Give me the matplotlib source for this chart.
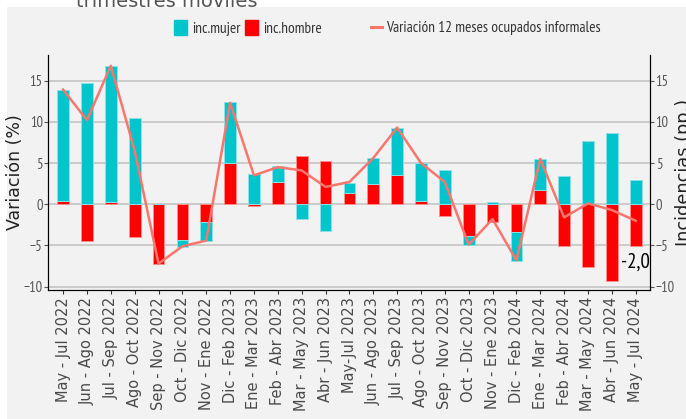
#!/usr/bin/env python3

import matplotlib
matplotlib.use("Agg")
import matplotlib.pyplot as plt
from matplotlib.patches import Rectangle, Patch
from matplotlib.lines import Line2D
import numpy as np

# Trimestres moviles
periods = ["May - Jul 2022", "Jun - Ago 2022", "Jul - Sep 2022", "Ago - Oct 2022",
           "Sep - Nov 2022", "Oct - Dic 2022", "Nov - Ene 2022", "Dic - Feb 2023",
           "Ene - Mar 2023", "Feb - Abr 2023", "Mar - May 2023", "Abr - Jun 2023",
           "May-Jul 2023", "Jun - Ago 2023", "Jul - Sep 2023", "Ago - Oct 2023",
           "Sep - Nov 2023", "Oct - Dic 2023", "Nov - Ene 2023", "Dic - Feb 2024",
           "Ene - Mar 2024", "Feb - Abr 2024", "Mar - May 2024", "Abr - Jun 2024",
           "May - Jul 2024"]

# Incidencias (pp.)
inc_mujer = [13.5, 14.7, 16.5, 10.5, 0.05, -0.8, -2.2, 7.4, 3.7, 1.9, -1.75, -3.2,
             1.2, 3.2, 5.8, 4.6, 4.1, -1.0, 0.3, -3.5, 3.7, 3.4, 7.7, 8.6, 3.0]
inc_hombre = [0.4, -4.5, 0.3, -4.0, -7.2, -4.35, -2.2, 5.0, -0.25, 2.7, 5.8, 5.3,
              1.4, 2.45, 3.5, 0.45, -1.45, -3.9, -2.1, -3.35, 1.75, -5.05, -7.55, -9.25, -5.05]

# Variacion 12 meses ocupados informales
variacion = [13.9, 10.2, 16.8, 6.5, -7.2, -5.1, -4.4, 12.3, 3.5, 4.5, 4.1, 2.1,
             2.7, 5.6, 9.3, 5.0, 2.7, -4.9, -1.8, -6.8, 5.5, -1.6, 0.1, -0.7, -2.0]

cyan = "#00C5CD"
red = "#FF0000"
salmon = "#F8766D"
bg = "#F2F2F2"
narrow = ["PT Sans Narrow", "DejaVu Sans"]

fig = plt.figure(figsize=(6.86, 4.19), dpi=100, facecolor="white")
fig.patches.append(Rectangle((7 / 686, 0), 1, 1 - 7 / 419, transform=fig.transFigure,
                             facecolor=bg, edgecolor="none", zorder=-5))
fig.text(76 / 686, 1 - 6.7 / 419, "trimestres móviles", fontsize=14, color="#555555",
         ha="left", va="baseline")

ax = fig.add_axes([48.3 / 686, 1 - 290 / 419, (650 - 48.3) / 686, (290 - 55) / 419])
ax.set_facecolor(bg)

x = np.arange(len(periods))
m = np.array(inc_mujer)
h = np.array(inc_hombre)
# hombre at the base, mujer stacked on top when signs agree
m_base = np.where(np.sign(m) == np.sign(h), h, 0)
ax.bar(x, h, width=0.49, color=red, edgecolor=(1, 0.55, 0.55), lw=0.7, zorder=2)
ax.bar(x, m, width=0.49, bottom=m_base, color=cyan, edgecolor=(0.55, 0.88, 0.9), lw=0.7, zorder=2)
ax.plot(x, variacion, color=salmon, lw=1.8, zorder=3)

ax.set_xlim(-0.62, 24.6)
ax.set_ylim(-10.4, 18.1)
ax.set_yticks([-10, -5, 0, 5, 10, 15])
ax.grid(axis="y", color="#C8C8C8", lw=1.3, zorder=0)
ax.set_axisbelow(True)
ax.set_xticks(x)
ax.set_xticklabels(periods, rotation=90, fontsize=10.5, color="#4a4a4a")
ax.tick_params(axis="y", labelsize=10.5, labelcolor="#555555", length=3, color="#555555", pad=1)
ax.tick_params(axis="x", length=3, color="#333333", pad=2)
for t in ax.get_yticklabels():
    t.set_family(narrow)
ax.spines["top"].set_visible(False)
ax.set_ylabel("Variación (%)", fontsize=12.5, color="#222222")
ax.yaxis.set_label_coords(-0.04, 0.5)

ax2 = ax.twinx()
ax2.set_ylim(ax.get_ylim())
ax2.set_yticks([-10, -5, 0, 5, 10, 15])
ax2.tick_params(axis="y", labelsize=10.5, labelcolor="#555555", length=3, color="#555555", pad=1)
for t in ax2.get_yticklabels():
    t.set_family(narrow)
ax2.spines["top"].set_visible(False)
ax2.set_ylabel("Incidencias (pp.)", fontsize=12.8, color="#222222")
ax2.yaxis.set_label_coords(1.041, 0.5)

ax.text(24.6, -7.05, "-2,0", fontsize=15, ha="right", va="center", color="black", family=narrow)

legend_font = {"family": narrow, "size": 11}
fig.legend(handles=[Patch(color=cyan, label="inc.mujer"), Patch(color=red, label="inc.hombre")],
           loc="center left", bbox_to_anchor=(174.3 / 686, 1 - 28.3 / 419), ncol=2,
           frameon=False, prop=legend_font, handlelength=0.81, handleheight=1.09,
           handletextpad=0.33, columnspacing=0.33, borderpad=0, borderaxespad=0,
           labelcolor="#333333")
fig.legend(handles=[Line2D([], [], color=salmon, lw=2.2, label="Variación 12 meses ocupados informales")],
           loc="center left", bbox_to_anchor=(371 / 686, 1 - 28.3 / 419),
           frameon=False, prop=legend_font, handlelength=0.72,
           handletextpad=0.26, borderpad=0, borderaxespad=0, labelcolor="#333333")

fig.savefig("out.png", dpi=100, facecolor=fig.get_facecolor())
